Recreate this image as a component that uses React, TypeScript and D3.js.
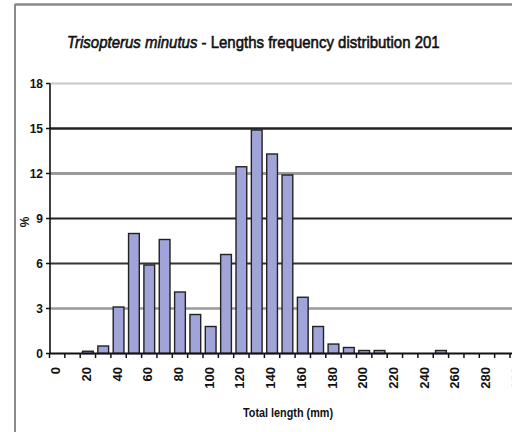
import React from "react";
import * as d3 from "d3";

const lengthClasses: number[] = d3.range(0, 310, 10).map((d) => d);
const percentValues: number[] = [
  0, 0, 0.15, 0.5, 3.1, 8.0, 5.9, 7.6, 4.1, 2.6, 1.8, 6.6, 12.45, 14.9, 13.3, 11.9,
  3.75, 1.8, 0.63, 0.4, 0.2, 0.2, 0, 0, 0, 0.2, 0, 0, 0, 0, 0,
];
const yTicks: number[] = [0, 3, 6, 9, 12, 15, 18];
const xLabelValues: number[] = d3.range(0, 310, 20);
const gridStyles: { v: number; color: string; w: number }[] = [
  { v: 3, color: "#9a9a9a", w: 2.5 },
  { v: 6, color: "#333", w: 2.2 },
  { v: 9, color: "#222", w: 2.2 },
  { v: 12, color: "#9a9a9a", w: 2.8 },
  { v: 15, color: "#222", w: 2.5 },
  { v: 18, color: "#c8c8c8", w: 2 },
];

export default function App() {
  const W = 512;
  const H = 432;
  const left = 50;
  const step = 15.35;
  const x = d3
    .scaleBand<string>()
    .domain(lengthClasses.map(String))
    .range([49.5, 49.5 + step * lengthClasses.length])
    .paddingInner(0.3)
    .paddingOuter(0.15);
  const y = d3.scaleLinear().domain([0, 18]).range([353.5, 83.5]);
  const xb = d3
    .scaleBand<string>()
    .domain(lengthClasses.map(String))
    .range([49.5, 49.5 + step * lengthClasses.length]);
  const font = "'Liberation Sans', Arial, sans-serif";

  return (
    <svg
      width={W}
      height={H}
      style={{ position: "absolute", left: 0, top: 0, background: "#fff" }}
      fontFamily={font}
    >
      <defs>
        <clipPath id="titleClip">
          <rect x={0} y={0} width={440} height={70} />
        </clipPath>
      </defs>
      {/* frame */}
      <line x1={15} x2={W + 5} y1={4.5} y2={4.5} stroke="#8a8a8a" strokeWidth={2.5} />
      <line x1={15} x2={15} y1={4} y2={H + 5} stroke="#8a8a8a" strokeWidth={2} />

      {/* title */}
      <g clipPath="url(#titleClip)">
        <text
          x={67}
          y={48}
          fontSize={17}
          fill="#111"
          stroke="#111"
          strokeWidth={0.6}
          textLength={381}
          lengthAdjust="spacingAndGlyphs"
        >
          <tspan fontStyle="italic">Trisopterus minutus</tspan>
          <tspan> - Lengths frequency distribution 2010</tspan>
        </text>
      </g>

      {/* gridlines */}
      {gridStyles.map((g) => (
        <line
          key={g.v}
          x1={left}
          x2={W + 5}
          y1={y(g.v)}
          y2={y(g.v)}
          stroke={g.color}
          strokeWidth={g.w}
        />
      ))}

      {/* bars */}
      {lengthClasses.map((c, i) =>
        percentValues[i] > 0 ? (
          <rect
            key={c}
            x={x(String(c))}
            width={x.bandwidth()}
            y={y(percentValues[i])}
            height={y(0) - y(percentValues[i])}
            fill="#a0a4d8"
            stroke="#222"
            strokeWidth={1.4}
          />
        ) : null
      )}

      {/* axes */}
      <line x1={left} x2={left} y1={y(18)} y2={y(0)} stroke="#111" strokeWidth={1.6} />
      <line x1={left} x2={W + 5} y1={y(0)} y2={y(0)} stroke="#111" strokeWidth={1.8} />
      {yTicks.map((t) => (
        <g key={t}>
          <line x1={left - 4} x2={left} y1={y(t)} y2={y(t)} stroke="#111" strokeWidth={1.5} />
          <text
            x={left - 7}
            y={y(t)}
            dy="0.35em"
            textAnchor="end"
            fontSize={12}
            fontWeight="bold"
            fill="#111"
          >
            {t}
          </text>
        </g>
      ))}
      {lengthClasses.map((c) => (
        <line
          key={"t" + c}
          x1={xb(String(c))!}
          x2={xb(String(c))!}
          y1={y(0)}
          y2={y(0) + 4.5}
          stroke="#111"
          strokeWidth={1.5}
        />
      ))}
      {xLabelValues.map((v) => {
        const cx = xb(String(v))! + xb.bandwidth() / 2 - 1.5;
        return (
          <text
            key={"l" + v}
            transform={`translate(${cx},367) rotate(-90)`}
            textAnchor="end"
            dy="0.35em"
            fontSize={13}
            fontWeight="bold"
            fill="#111"
          >
            {v}
          </text>
        );
      })}

      {/* axis titles */}
      <text
        transform="translate(25,222) rotate(-90)"
        textAnchor="middle"
        dy="0.35em"
        fontSize={12}
        fontWeight="bold"
        fill="#111"
      >
        %
      </text>
      <text
        x={288}
        y={417}
        textAnchor="middle"
        fontSize={12}
        fontWeight="bold"
        fill="#111"
        textLength={90}
        lengthAdjust="spacingAndGlyphs"
      >
        Total length (mm)
      </text>
    </svg>
  );
}
